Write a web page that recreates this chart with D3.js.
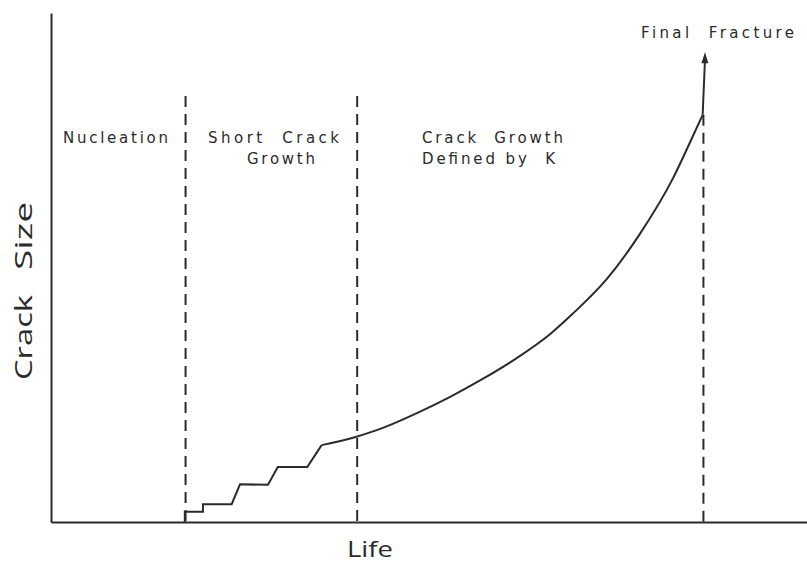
<!DOCTYPE html>
<html>
<head>
<meta charset="utf-8">
<script src="https://cdn.jsdelivr.net/npm/d3@7"></script>
<style>
  body { margin: 0; background: #fff; }
  svg { display: block; }
  .lbl { font-family: "DejaVu Sans", sans-serif; font-size: 15px; fill: #2b2b2b; }
  .axlbl { font-family: "Open Sans", sans-serif; font-size: 23px; fill: #2b2b2b; }
</style>
</head>
<body>
<svg id="chart" width="807" height="565"></svg>
<script>
// life (% of total) vs crack size (% of axis height)
const stepLife = [17.7, 17.7, 20.1, 20.1, 23.9, 25.0, 28.7, 30.0, 33.9, 35.8];
const stepSize = [0, 2.0, 2.0, 3.5, 3.5, 7.4, 7.3, 10.8, 10.8, 15.1];

const kLife = [35.8, 40.3, 42.2, 43.9, 48.4, 52.8, 57.1, 61.6, 66.0, 69.0, 73.5, 77.9, 82.3, 84.5, 86.2];
const kSize = [15.1, 16.7, 17.6, 18.5, 21.4, 24.6, 28.1, 32.2, 36.9, 40.9, 47.7, 56.6, 67.6, 74.5, 80.0];

const fracture = { life: [86.2, 86.5], size: [80.0, 92.3] };

// stage boundaries (dashed lines): life, top size
const bounds = [17.8, 40.5, 86.3];
const boundTops = [83.7, 83.7, 80.0];

const stageNames = [
  { lines: ["Nucleation"], x: 63, w: [105] },
  { lines: ["Short  Crack", "Growth"], x: 208, w: [131, 68], x2: 247 },
  { lines: ["Crack  Growth", "Defined by  K"], x: 422, w: [141, 133], x2: 422 }
];

const svg = d3.select('#chart');
const x = d3.scaleLinear().domain([0, 100]).range([51, 807]);
const y = d3.scaleLinear().domain([0, 100]).range([522, 13]);
const ink = '#2b2b2b';

// axes without ticks
svg.append('g')
  .attr('transform', `translate(0,${y(0)})`)
  .call(d3.axisBottom(x).tickValues([]).tickSizeOuter(0))
  .select('.domain').attr('stroke', ink).attr('stroke-width', 2);
svg.append('g')
  .attr('transform', `translate(${x(0)},0)`)
  .call(d3.axisLeft(y).tickValues([]).tickSizeOuter(0))
  .select('.domain').attr('stroke', ink).attr('stroke-width', 2);

// dashed stage boundaries
svg.selectAll('line.bound')
  .data(bounds)
  .join('line')
  .attr('class', 'bound')
  .attr('x1', d => x(d)).attr('x2', d => x(d))
  .attr('y1', (d, i) => y(boundTops[i])).attr('y2', y(0))
  .attr('stroke', ink).attr('stroke-width', 2)
  .attr('stroke-dasharray', '11,7');

// stepped short crack growth
const steps = stepLife.map((d, i) => [d, stepSize[i]]);
svg.append('path')
  .datum(steps)
  .attr('fill', 'none').attr('stroke', ink).attr('stroke-width', 2)
  .attr('d', d3.line().x(d => x(d[0])).y(d => y(d[1])));

// long crack growth curve
const kpts = kLife.map((d, i) => [d, kSize[i]]);
svg.append('path')
  .datum(kpts)
  .attr('fill', 'none').attr('stroke', ink).attr('stroke-width', 2)
  .attr('d', d3.line().curve(d3.curveMonotoneX).x(d => x(d[0])).y(d => y(d[1])));

// final fracture arrow
const ax = x(fracture.life[1]), ay = y(fracture.size[1]);
svg.append('line')
  .attr('x1', x(fracture.life[0])).attr('y1', y(fracture.size[0]))
  .attr('x2', ax).attr('y2', ay + 8)
  .attr('stroke', ink).attr('stroke-width', 2);
svg.append('path')
  .attr('d', `M${ax},${ay} L${ax - 3.5},${ay + 11} L${ax + 3.5},${ay + 11} Z`)
  .attr('fill', ink);

// stage labels
stageNames.forEach(s => {
  s.lines.forEach((t, i) => {
    svg.append('text')
      .attr('class', 'lbl')
      .attr('x', i === 0 ? s.x : s.x2)
      .attr('y', 143 + i * 21)
      .attr('textLength', s.w[i])
      .attr('lengthAdjust', 'spacing')
      .style('white-space', 'pre')
      .text(t);
  });
});

svg.append('text')
  .attr('class', 'lbl')
  .attr('x', 641).attr('y', 38)
  .attr('textLength', 153).attr('lengthAdjust', 'spacing')
  .style('white-space', 'pre')
  .text('Final  Fracture');

// axis titles
svg.append('text')
  .attr('class', 'axlbl')
  .attr('x', 347).attr('y', 557)
  .style('font-size', '22px')
  .attr('textLength', 46).attr('lengthAdjust', 'spacingAndGlyphs')
  .text('Life');

const yTitle = svg.append('g').attr('transform', 'translate(32,0) rotate(-90)');
yTitle.append('text')
  .attr('class', 'axlbl')
  .attr('x', -380)
  .attr('textLength', 85).attr('lengthAdjust', 'spacingAndGlyphs')
  .text('Crack');
yTitle.append('text')
  .attr('class', 'axlbl')
  .attr('x', -270)
  .attr('textLength', 68).attr('lengthAdjust', 'spacingAndGlyphs')
  .text('Size');
</script>
</body>
</html>
